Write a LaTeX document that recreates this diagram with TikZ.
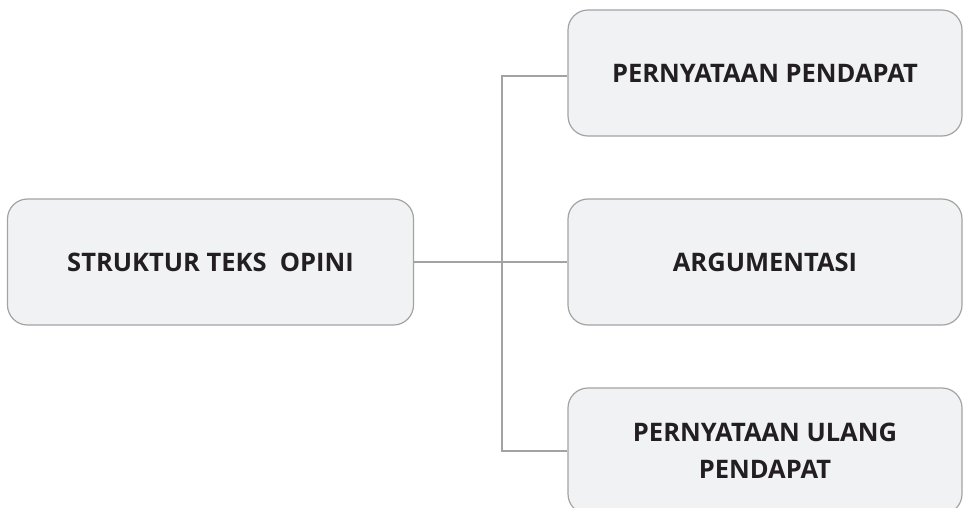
\documentclass[tikz,border=0pt]{standalone}
\usepackage{fontspec}
\setmainfont{Open Sans}
\definecolor{boxfill}{HTML}{F1F2F4}
\definecolor{boxline}{HTML}{A3A3A3}
\definecolor{txt}{HTML}{231F20}
\begin{document}
\begin{tikzpicture}[x=1pt,y=-1pt,
  card/.style={draw=boxline,fill=boxfill,line width=1.2pt,rounded corners=20pt,
    minimum height=126pt,inner sep=0pt,font=\fontsize{25.5}{37}\selectfont\bfseries,
    text=txt,align=center},
  link/.style={draw=boxline,line width=1.1pt}]
\useasboundingbox (0,0) rectangle (963,507);
\clip (0,0) rectangle (963,507);
\node[card,minimum width=406pt] (root) at (210.5,262) {STRUKTUR TEKS\ \ OPINI};
\node[card,minimum width=394pt] (a) at (765,73) {PERNYATAAN PENDAPAT};
\node[card,minimum width=394pt] (b) at (765,262) {ARGUMENTASI};
\node[card,minimum width=394pt] (c) at (765,451) {PERNYATAAN ULANG\\PENDAPAT};
\coordinate (j) at (502,262);
\draw[link] (root.east) -- (j);
\draw[link] (a.west |- 0,76) -| (502,262) |- (c.west);
\draw[link] (j) -- (b.west);
\end{tikzpicture}
\end{document}
